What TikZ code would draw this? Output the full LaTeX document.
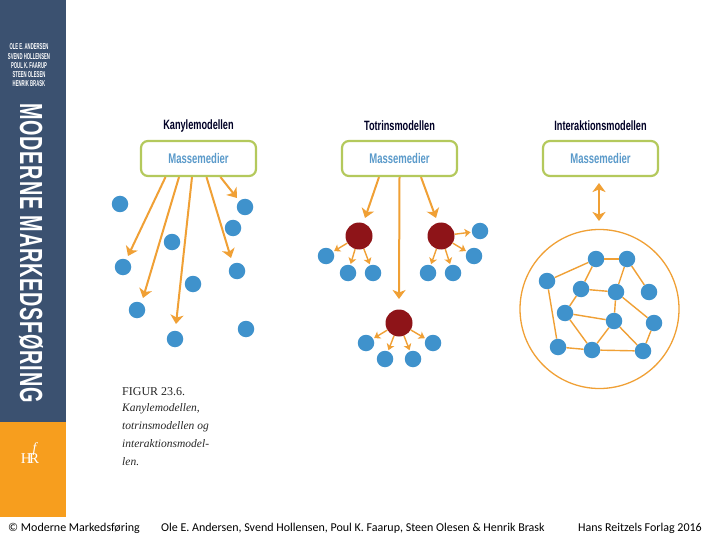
\documentclass[tikz,border=0pt]{standalone}
\usepackage{fontspec}
\usetikzlibrary{arrows.meta}
\setmainfont{Carlito}
\newfontfamily\condfont[FakeStretch=0.68]{Liberation Sans}
\newfontfamily\authorfont[FakeStretch=0.5]{Liberation Sans}
\newfontfamily\spinefont[FakeStretch=0.62,LetterSpace=2.5]{Liberation Sans}
\newfontfamily\captionfont{Liberation Serif}
\definecolor{spineblue}{HTML}{3B5170}
\definecolor{spineorange}{HTML}{F79E1E}
\definecolor{arroworange}{HTML}{F0A035}
\definecolor{boxgreen}{HTML}{B4C95C}
\definecolor{dotblue}{HTML}{3F92CC}
\definecolor{dotred}{HTML}{8E1418}
\definecolor{boxtext}{HTML}{5A9ACA}
\tikzset{
  mediabox/.style={draw=boxgreen, line width=2.2pt, rounded corners=7pt, fill=white, minimum width=115pt, minimum height=35pt, inner sep=0pt, font=\condfont\bfseries\fontsize{14}{14}\selectfont, text=boxtext},
  modeltitle/.style={font=\condfont\bfseries\fontsize{13.5}{14}\selectfont, text=black!85!blue, inner sep=0pt},
  bluedot/.style={circle, fill=dotblue, minimum size=16.5pt, inner sep=0pt},
  reddot/.style={circle, fill=dotred, minimum size=27pt, inner sep=0pt},
  bigarrow/.style={draw=arroworange, line width=2pt, -{Stealth[width=13pt,length=9pt,inset=2.5pt]}},
  smallarrow/.style={draw=arroworange, line width=1.4pt, -{Stealth[width=8pt,length=6pt,inset=1.5pt]}, shorten >=1pt},
  netline/.style={draw=arroworange, line width=1.4pt},
  footer/.style={font=\fontsize{12}{13}\selectfont, inner sep=0pt, text=black},
  captionline/.style={font=\captionfont\itshape\fontsize{11.5}{12}\selectfont, anchor=west, inner sep=0pt, text=black!85},
  authorline/.style={font=\authorfont\bfseries\fontsize{8.5}{9}\selectfont, text=white, inner sep=0pt}
}
\begin{document}
\begin{tikzpicture}[x=1pt, y=-1pt]
\useasboundingbox (0,0) rectangle (720,540);
\fill[white] (0,0) rectangle (720,540);

% spine
\fill[spineblue] (0,0) rectangle (66,422);
\fill[spineorange] (0,422) rectangle (66,517);
\node[authorline] (author1) at (29,47) {OLE E. ANDERSEN};
\node[authorline] (author2) at (29,57) {SVEND HOLLENSEN};
\node[authorline] (author3) at (29,66) {POUL K. FAARUP};
\node[authorline] (author4) at (29,75) {STEEN OLESEN};
\node[authorline] (author5) at (29,84) {HENRIK BRASK};
\node[rotate=-90, text=white, inner sep=0pt, font=\spinefont\bfseries\fontsize{32}{32}\selectfont] (spine) at (31,253) {MODERNE MARKEDSFØRING};
\node[text=white, inner sep=0pt, font=\captionfont\fontsize{15}{15}\selectfont] (logo) at (30,458.5) {H\kern-2.5pt R};
\node[text=white, inner sep=0pt, anchor=south, font=\captionfont\itshape\fontsize{14}{14}\selectfont] (logof) at (34.5,455.5) {f};

% kanyle
\node[modeltitle] (ktitle) at (198.5,126) {Kanylemodellen};
\node[mediabox] (kbox) at (198.5,158.5) {Massemedier};
\node[bluedot] (k1) at (120,204) {};
\node[bluedot] (k2) at (245,207) {};
\node[bluedot] (k3) at (233,228) {};
\node[bluedot] (k4) at (172,242) {};
\node[bluedot] (k5) at (123,267) {};
\node[bluedot] (k6) at (237,271) {};
\node[bluedot] (k7) at (193,284) {};
\node[bluedot] (k8) at (137,310) {};
\node[bluedot] (k9) at (175,339) {};
\node[bluedot] (k10) at (246,329) {};
\coordinate (kend1) at (128,256);
\coordinate (kend2) at (143,298);
\coordinate (kend3) at (176,324);
\coordinate (kend4) at (231,258);
\coordinate (kend5) at (237,198);
\draw[bigarrow] ([xshift=-33pt]kbox.south) -- (kend1);
\draw[bigarrow] ([xshift=-19.5pt]kbox.south) -- (kend2);
\draw[bigarrow] ([xshift=-6.5pt]kbox.south) -- (kend3);
\draw[bigarrow] ([xshift=8pt]kbox.south) -- (kend4);
\draw[bigarrow] ([xshift=22pt]kbox.south) -- (kend5);

% totrin
\node[modeltitle] (ttitle) at (399.5,126) {Totrinsmodellen};
\node[mediabox] (tbox) at (399.5,158.5) {Massemedier};
\node[reddot] (r1) at (359,236) {};
\node[reddot] (r2) at (441,236) {};
\node[reddot] (r3) at (399,323) {};
\node[bluedot] (t1) at (326,256) {};
\node[bluedot] (t2) at (348,273) {};
\node[bluedot] (t3) at (373,273) {};
\node[bluedot] (t4) at (428,273) {};
\node[bluedot] (t5) at (453,273) {};
\node[bluedot] (t6) at (474,256) {};
\node[bluedot] (t7) at (480,231) {};
\node[bluedot] (t8) at (366,343) {};
\node[bluedot] (t9) at (385,359) {};
\node[bluedot] (t10) at (413,359) {};
\node[bluedot] (t11) at (433,343) {};
\coordinate (tend1) at (365,218);
\coordinate (tend2) at (399,299);
\coordinate (tend3) at (436,218);
\draw[bigarrow] ([xshift=-20.5pt]tbox.south) -- (tend1);
\draw[bigarrow] (tbox.south) -- (tend2);
\draw[bigarrow] ([xshift=21.5pt]tbox.south) -- (tend3);
\draw[smallarrow] (r1) -- (t1);
\draw[smallarrow] (r1) -- (t2);
\draw[smallarrow] (r1) -- (t3);
\draw[smallarrow] (r2) -- (t4);
\draw[smallarrow] (r2) -- (t5);
\draw[smallarrow] (r2) -- (t6);
\draw[smallarrow] (r2) -- (t7);
\draw[smallarrow] (r3) -- (t8);
\draw[smallarrow] (r3) -- (t9);
\draw[smallarrow] (r3) -- (t10);
\draw[smallarrow] (r3) -- (t11);

% interaktion
\node[modeltitle] (ititle) at (600.5,126) {Interaktionsmodellen};
\node[mediabox] (ibox) at (600.5,158.5) {Massemedier};
\node[circle, draw=arroworange, line width=1.3pt, minimum size=159pt, inner sep=0pt] (crowd) at (599.5,309) {};
\coordinate (iend1) at (599,183);
\coordinate (iend2) at (599,221);
\draw[bigarrow, {Stealth[width=13pt,length=9pt,inset=2.5pt]}-{Stealth[width=13pt,length=9pt,inset=2.5pt]}] (iend1) -- (iend2);
\node[bluedot] (n1) at (596,259) {};
\node[bluedot] (n2) at (627,259) {};
\node[bluedot] (n3) at (547,281) {};
\node[bluedot] (n4) at (581,289) {};
\node[bluedot] (n5) at (616,292) {};
\node[bluedot] (n6) at (649,292) {};
\node[bluedot] (n7) at (565,313) {};
\node[bluedot] (n8) at (614,321) {};
\node[bluedot] (n9) at (654,323) {};
\node[bluedot] (n10) at (558,347) {};
\node[bluedot] (n11) at (592,350) {};
\node[bluedot] (n12) at (643,351) {};
\draw[netline] (n1) -- (n2);
\draw[netline] (n1) -- (n3);
\draw[netline] (n1) -- (n4);
\draw[netline] (n2) -- (n5);
\draw[netline] (n2) -- (n6);
\draw[netline] (n4) -- (n5);
\draw[netline] (n4) -- (n7);
\draw[netline] (n5) -- (n8);
\draw[netline] (n5) -- (n9);
\draw[netline] (n7) -- (n8);
\draw[netline] (n7) -- (n11);
\draw[netline] (n8) -- (n11);
\draw[netline] (n8) -- (n12);
\draw[netline] (n9) -- (n12);
\draw[netline] (n3) -- (n10);
\draw[netline] (n10) -- (n11);
\draw[netline] (n11) -- (n12);

% caption
\node[anchor=west, inner sep=0pt, text=black!85, font=\captionfont\fontsize{12}{12}\selectfont] (fig) at (122,392) {FIGUR 23.6.};
\node[captionline] (cap1) at (122,409) {Kanylemodellen,};
\node[captionline] (cap2) at (122,427) {totrinsmodellen og};
\node[captionline] (cap3) at (122,444) {interaktionsmodel-};
\node[captionline] (cap4) at (122,462) {len.};

% footer
\node[footer, anchor=west] (foot1) at (8,528) {© Moderne Markedsføring};
\node[footer, anchor=west] (foot2) at (161,528) {Ole E. Andersen, Svend Hollensen, Poul K. Faarup, Steen Olesen \& Henrik Brask};
\node[footer, anchor=east] (foot3) at (702,528) {Hans Reitzels Forlag 2016};
\end{tikzpicture}
\end{document}
